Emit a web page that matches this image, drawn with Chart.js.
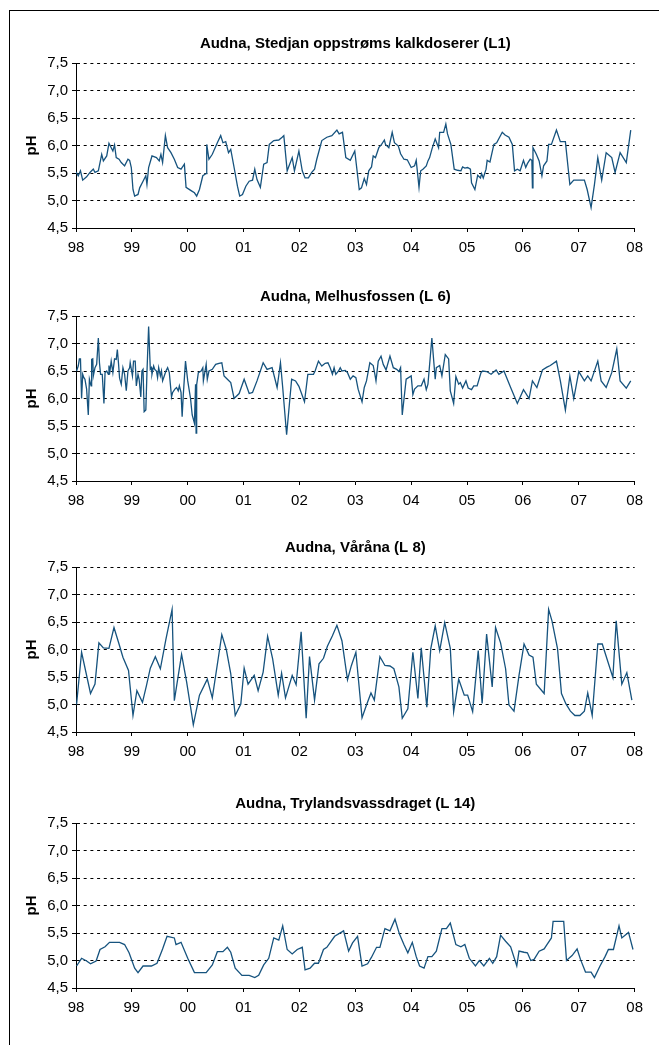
<!DOCTYPE html>
<html>
<head>
<meta charset="utf-8">
<script src="https://cdn.jsdelivr.net/npm/chart.js@4.4.0/dist/chart.umd.min.js"></script>
<style>
    html, body { margin: 0; padding: 0; background: #fff; width: 659px; height: 1045px; overflow: hidden; }
    #ramme { position: absolute; left: 9px; top: 10px; width: 700px; height: 1100px; border: 1px solid #000; }
    canvas { position: absolute; left: 10px; }
</style>
</head>
<body>
<div id="ramme"></div>
<canvas id="l1" width="640" height="240" style="top:20px"></canvas>
<canvas id="l6" width="640" height="240" style="top:273px"></canvas>
<canvas id="l8" width="640" height="240" style="top:524px"></canvas>
<canvas id="l14" width="640" height="240" style="top:780px"></canvas>
<script>
// Prøvetakingsdato (desimalår) og pH for hver stasjon
const l1Aar = [
    1998.00, 1998.04, 1998.08, 1998.12, 1998.19, 1998.25, 1998.31, 1998.34, 1998.40, 1998.46,
    1998.49, 1998.55, 1998.59, 1998.63, 1998.66, 1998.69, 1998.72, 1998.77, 1998.81, 1998.87,
    1998.93, 1998.96, 1998.99, 1999.02, 1999.05, 1999.11, 1999.14, 1999.20, 1999.25, 1999.27,
    1999.30, 1999.36, 1999.44, 1999.49, 1999.52, 1999.55, 1999.60, 1999.64, 1999.70, 1999.76,
    1999.82, 1999.88, 1999.94, 1999.97, 2000.06, 2000.12, 2000.16, 2000.21, 2000.27, 2000.33,
    2000.34, 2000.38, 2000.44, 2000.53, 2000.59, 2000.63, 2000.68, 2000.73, 2000.77, 2000.83,
    2000.89, 2000.93, 2000.98, 2001.04, 2001.10, 2001.16, 2001.20, 2001.24, 2001.30, 2001.36,
    2001.42, 2001.46, 2001.54, 2001.63, 2001.69, 2001.72, 2001.78, 2001.87, 2001.91, 2001.99,
    2002.05, 2002.10, 2002.16, 2002.22, 2002.27, 2002.31, 2002.35, 2002.40, 2002.49, 2002.58,
    2002.67, 2002.71, 2002.77, 2002.83, 2002.91, 2002.99,
    2003.07, 2003.11, 2003.16, 2003.20, 2003.24, 2003.29, 2003.32, 2003.36, 2003.42, 2003.47,
    2003.52, 2003.54, 2003.60, 2003.66, 2003.70, 2003.77, 2003.81, 2003.87, 2003.93, 2004.00,
    2004.06, 2004.09, 2004.14, 2004.17, 2004.21, 2004.27, 2004.30, 2004.33, 2004.37, 2004.43,
    2004.49, 2004.51, 2004.58, 2004.62, 2004.65, 2004.71, 2004.77, 2004.83, 2004.89, 2004.92,
    2004.96, 2005.01, 2005.06, 2005.08, 2005.14, 2005.19, 2005.24, 2005.26, 2005.29, 2005.34,
    2005.36, 2005.41, 2005.48, 2005.53, 2005.63, 2005.68, 2005.75, 2005.81, 2005.85, 2005.90,
    2005.95, 2006.01, 2006.05, 2006.08, 2006.13, 2006.16, 2006.17, 2006.18, 2006.24, 2006.29,
    2006.34, 2006.37, 2006.43, 2006.46, 2006.51, 2006.60, 2006.67, 2006.76, 2006.84, 2006.91,
    2007.03, 2007.10, 2007.15, 2007.22, 2007.28, 2007.34, 2007.41, 2007.49, 2007.59, 2007.65,
    2007.74, 2007.85, 2007.93
];
const l1PH = [
    5.52, 5.45, 5.54, 5.37, 5.43, 5.51, 5.57, 5.51, 5.54, 5.84,
    5.72, 5.81, 6.04, 5.96, 5.90, 6.01, 5.78, 5.75, 5.69, 5.63,
    5.75, 5.73, 5.60, 5.20, 5.08, 5.11, 5.23, 5.35, 5.45, 5.29,
    5.60, 5.81, 5.78, 5.72, 5.84, 5.69, 6.18, 5.96, 5.87, 5.75,
    5.60, 5.57, 5.66, 5.24, 5.18, 5.14, 5.08, 5.20, 5.45, 5.49,
    6.02, 5.75, 5.84, 6.05, 6.18, 6.05, 6.07, 5.87, 5.93, 5.60,
    5.26, 5.08, 5.11, 5.26, 5.35, 5.37, 5.57, 5.38, 5.24, 5.66,
    5.69, 6.02, 6.09, 6.10, 6.15, 6.18, 5.54, 5.78, 5.54, 5.90,
    5.54, 5.41, 5.41, 5.51, 5.57, 5.75, 5.90, 6.09, 6.15, 6.18,
    6.28, 6.21, 6.24, 5.78, 5.73, 5.90,
    5.20, 5.23, 5.40, 5.29, 5.54, 5.61, 5.81, 5.78, 5.96, 6.02,
    6.10, 6.02, 5.96, 6.24, 6.05, 5.99, 5.85, 5.75, 5.74, 5.60,
    5.63, 5.73, 5.24, 5.54, 5.57, 5.63, 5.72, 5.78, 5.93, 6.12,
    5.96, 6.24, 6.24, 6.39, 6.21, 6.02, 5.57, 5.55, 5.54, 5.61,
    5.59, 5.60, 5.57, 5.32, 5.20, 5.46, 5.41, 5.49, 5.41, 5.57,
    5.73, 5.70, 6.02, 6.05, 6.24, 6.19, 6.15, 6.02, 5.54, 5.57,
    5.54, 5.73, 5.60, 5.67, 5.75, 5.73, 5.23, 5.96, 5.84, 5.72,
    5.45, 5.63, 5.72, 6.02, 6.02, 6.28, 6.07, 6.07, 5.29, 5.37,
    5.37, 5.37, 5.20, 4.87, 5.29, 5.78, 5.37, 5.87, 5.78, 5.51,
    5.87, 5.69, 6.28
];

const l6Aar = [
    1998.01, 1998.04, 1998.06, 1998.08, 1998.10, 1998.12, 1998.14, 1998.16, 1998.19, 1998.22,
    1998.24, 1998.27, 1998.28, 1998.30, 1998.31, 1998.34, 1998.37, 1998.40, 1998.42, 1998.44,
    1998.47, 1998.50, 1998.52, 1998.55, 1998.58, 1998.59, 1998.60, 1998.63, 1998.66, 1998.69,
    1998.72, 1998.74, 1998.76, 1998.78, 1998.81, 1998.84, 1998.87, 1998.90, 1998.93, 1998.96,
    1998.97, 1999.01, 1999.03, 1999.06, 1999.08, 1999.11, 1999.13, 1999.16, 1999.18, 1999.20,
    1999.22, 1999.25, 1999.27, 1999.30, 1999.33, 1999.35, 1999.36, 1999.39, 1999.41, 1999.44,
    1999.46, 1999.48, 1999.51, 1999.53, 1999.55, 1999.58, 1999.61, 1999.64, 1999.67, 1999.71,
    1999.73, 1999.77, 1999.80, 1999.83, 1999.85, 1999.88, 1999.90, 1999.92, 1999.96, 2000.00,
    2000.05, 2000.08, 2000.12, 2000.14, 2000.15, 2000.16, 2000.19, 2000.24, 2000.27, 2000.28,
    2000.33, 2000.35, 2000.38, 2000.44, 2000.50, 2000.56, 2000.61, 2000.65, 2000.71, 2000.77,
    2000.83, 2000.92, 2001.01, 2001.10, 2001.16, 2001.24, 2001.35, 2001.42, 2001.51, 2001.60,
    2001.66, 2001.70, 2001.77, 2001.86, 2001.93, 2001.99, 2002.09, 2002.15, 2002.25, 2002.28,
    2002.34, 2002.40, 2002.46, 2002.51, 2002.55, 2002.59, 2002.62, 2002.65, 2002.70, 2002.73,
    2002.76, 2002.82, 2002.86, 2002.91, 2002.96, 2003.01,
    2003.05, 2003.12, 2003.16, 2003.20, 2003.26, 2003.32, 2003.35, 2003.37, 2003.41, 2003.46,
    2003.50, 2003.55, 2003.62, 2003.68, 2003.74, 2003.78, 2003.81, 2003.84, 2003.91, 2004.00,
    2004.03, 2004.06, 2004.12, 2004.18, 2004.23, 2004.27, 2004.30, 2004.37, 2004.43, 2004.45,
    2004.51, 2004.55, 2004.61, 2004.67, 2004.70, 2004.76, 2004.80, 2004.85, 2004.88, 2004.92,
    2004.98, 2005.02, 2005.08, 2005.12, 2005.18, 2005.25, 2005.28, 2005.35, 2005.43, 2005.52,
    2005.57, 2005.66, 2005.78, 2005.90, 2006.01, 2006.11, 2006.17, 2006.25, 2006.35, 2006.43,
    2006.49, 2006.60, 2006.67, 2006.76, 2006.84, 2006.91, 2007.00, 2007.10, 2007.16, 2007.22,
    2007.34, 2007.40, 2007.49, 2007.59, 2007.68, 2007.74, 2007.85, 2007.93
];
const l6PH = [
    6.50, 6.59, 6.72, 6.72, 6.00, 6.44, 6.38, 6.35, 6.17, 5.70,
    6.35, 6.23, 6.71, 6.72, 6.41, 6.56, 6.62, 7.10, 6.65, 6.44,
    6.44, 5.91, 6.47, 6.50, 6.44, 6.60, 6.44, 6.68, 6.47, 6.72,
    6.71, 6.89, 6.65, 6.37, 6.26, 6.56, 6.44, 6.14, 6.50, 6.56,
    6.65, 6.41, 6.68, 6.68, 6.23, 6.44, 6.35, 6.03, 6.50, 6.53,
    5.76, 5.79, 6.47, 7.31, 6.53, 6.56, 6.44, 6.59, 6.53, 6.50,
    6.38, 6.56, 6.41, 6.50, 6.32, 6.41, 6.50, 6.56, 6.47, 6.03,
    6.11, 6.17, 6.20, 6.14, 6.23, 6.11, 5.67, 6.06, 6.68, 6.32,
    6.00, 5.70, 5.55, 6.26, 5.37, 6.25, 6.47, 6.50, 6.56, 6.32,
    6.62, 6.35, 6.50, 6.53, 6.62, 6.64, 6.65, 6.41, 6.35, 6.29,
    6.00, 6.09, 6.35, 6.09, 6.11, 6.32, 6.65, 6.53, 6.56, 6.20,
    6.65, 6.20, 5.34, 6.35, 6.32, 6.22, 5.94, 6.44, 6.44, 6.50,
    6.68, 6.59, 6.64, 6.65, 6.56, 6.44, 6.56, 6.44, 6.50, 6.56,
    6.50, 6.51, 6.47, 6.35, 6.41, 6.38,
    6.17, 5.94, 6.20, 6.32, 6.65, 6.60, 6.44, 6.32, 6.68, 6.77,
    6.62, 6.52, 6.77, 6.56, 6.53, 6.49, 6.56, 5.70, 6.35, 6.41,
    6.07, 6.17, 6.23, 6.23, 6.35, 6.16, 6.26, 7.10, 6.35, 6.56,
    6.60, 6.41, 6.80, 6.72, 6.14, 5.91, 6.40, 6.26, 6.29, 6.19,
    6.32, 6.19, 6.16, 6.23, 6.23, 6.47, 6.50, 6.49, 6.44, 6.52,
    6.44, 6.50, 6.20, 5.91, 6.16, 6.00, 6.32, 6.20, 6.52, 6.57,
    6.60, 6.68, 6.32, 5.79, 6.41, 6.00, 6.49, 6.32, 6.41, 6.32,
    6.68, 6.32, 6.20, 6.47, 6.90, 6.32, 6.19, 6.32
];

const l8Aar = [
    1998.01, 1998.10, 1998.26, 1998.34, 1998.41, 1998.49, 1998.59, 1998.68, 1998.77, 1998.84,
    1998.94, 1999.02, 1999.09, 1999.19, 1999.26, 1999.33, 1999.42, 1999.51, 1999.61, 1999.72,
    1999.76, 1999.89, 1999.98, 2000.07, 2000.10, 2000.21, 2000.35, 2000.44, 2000.61, 2000.69,
    2000.77, 2000.85, 2000.95, 2001.01, 2001.08, 2001.19, 2001.26, 2001.35, 2001.43, 2001.52,
    2001.62, 2001.68, 2001.75, 2001.87, 2001.94, 2002.03, 2002.12, 2002.18, 2002.27, 2002.35,
    2002.43, 2002.50, 2002.59, 2002.67, 2002.76, 2002.86, 2002.93, 2003.01,
    2003.12, 2003.20, 2003.28, 2003.34, 2003.44, 2003.53, 2003.62, 2003.69, 2003.78, 2003.84,
    2003.94, 2004.03, 2004.12, 2004.18, 2004.28, 2004.35, 2004.43, 2004.51, 2004.60, 2004.70,
    2004.76, 2004.85, 2004.95, 2005.01, 2005.10, 2005.20, 2005.27, 2005.35, 2005.45, 2005.51,
    2005.60, 2005.69, 2005.75, 2005.84, 2005.93, 2006.02, 2006.11, 2006.18, 2006.24, 2006.38,
    2006.46, 2006.52, 2006.62, 2006.69, 2006.77, 2006.85, 2006.93, 2007.02, 2007.10, 2007.16,
    2007.24, 2007.34, 2007.42, 2007.61, 2007.67, 2007.77, 2007.86, 2007.95
];
const l8PH = [
    5.00, 5.95, 5.20, 5.37, 6.12, 6.03, 6.02, 6.40, 6.10, 5.86,
    5.62, 4.80, 5.25, 5.04, 5.34, 5.66, 5.87, 5.65, 6.19, 6.73,
    5.07, 5.91, 5.41, 4.83, 4.63, 5.17, 5.46, 5.12, 6.27, 6.00,
    5.56, 4.80, 5.01, 5.66, 5.37, 5.53, 5.25, 5.59, 6.24, 5.83,
    5.17, 5.57, 5.12, 5.53, 5.36, 6.32, 4.75, 5.87, 5.08, 5.74,
    5.84, 6.06, 6.25, 6.44, 6.16, 5.45, 5.71, 5.95,
    4.76, 4.99, 5.21, 5.08, 5.87, 5.71, 5.70, 5.65, 5.32, 4.75,
    4.92, 5.95, 5.11, 6.03, 4.95, 6.01, 6.43, 5.98, 6.49, 6.02,
    4.87, 5.46, 5.17, 5.17, 4.87, 5.98, 5.02, 6.28, 5.32, 6.40,
    6.12, 5.65, 4.99, 4.88, 5.53, 6.10, 5.90, 5.86, 5.37, 5.20,
    6.73, 6.52, 6.01, 5.20, 5.01, 4.88, 4.80, 4.80, 4.88, 5.21,
    4.80, 6.10, 6.10, 5.49, 6.52, 5.37, 5.58, 5.08
];

const l14Aar = [
    1998.01, 1998.10, 1998.19, 1998.26, 1998.36, 1998.43, 1998.52, 1998.60, 1998.78, 1998.87,
    1998.95, 1999.05, 1999.11, 1999.20, 1999.35, 1999.45, 1999.55, 1999.63, 1999.76, 1999.79,
    1999.88, 2000.00, 2000.12, 2000.33, 2000.44, 2000.53, 2000.63, 2000.71, 2000.77, 2000.85,
    2000.97, 2001.10, 2001.20, 2001.27, 2001.36, 2001.45, 2001.54, 2001.63, 2001.70, 2001.78,
    2001.87, 2001.96, 2002.05, 2002.10, 2002.19, 2002.27, 2002.34, 2002.43, 2002.49, 2002.63,
    2002.76, 2002.79, 2002.88, 2002.95, 2003.04, 2003.12, 2003.22, 2003.29, 2003.38, 2003.44,
    2003.53, 2003.62, 2003.71, 2003.79, 2003.87, 2003.94, 2004.02, 2004.09, 2004.15, 2004.23,
    2004.30, 2004.37, 2004.45, 2004.55, 2004.63, 2004.70, 2004.80, 2004.89, 2004.96, 2005.04,
    2005.15, 2005.22, 2005.30, 2005.40, 2005.46, 2005.53, 2005.60, 2005.69, 2005.78, 2005.89,
    2005.93, 2006.02, 2006.08, 2006.14, 2006.20, 2006.29, 2006.38, 2006.43, 2006.51, 2006.54,
    2006.73, 2006.78, 2006.88, 2006.97, 2007.03, 2007.12, 2007.22, 2007.28, 2007.38, 2007.47,
    2007.53, 2007.62, 2007.72, 2007.77, 2007.89, 2007.97
];
const l14PH = [
    4.90, 5.04, 4.99, 4.94, 4.99, 5.20, 5.25, 5.33, 5.33, 5.29,
    5.14, 4.86, 4.78, 4.90, 4.90, 4.95, 5.21, 5.44, 5.41, 5.29,
    5.33, 5.04, 4.78, 4.78, 4.92, 5.16, 5.16, 5.24, 5.15, 4.86,
    4.73, 4.73, 4.69, 4.73, 4.92, 5.04, 5.41, 5.37, 5.63, 5.20,
    5.12, 5.20, 5.24, 4.83, 4.86, 4.95, 4.95, 5.20, 5.24, 5.44,
    5.52, 5.54, 5.17, 5.32, 5.44, 4.90, 4.94, 5.06, 5.24, 5.24,
    5.58, 5.54, 5.75, 5.48, 5.29, 5.14, 5.33, 5.07, 4.90, 4.86,
    5.07, 5.07, 5.17, 5.58, 5.58, 5.68, 5.29, 5.25, 5.29, 5.04,
    4.90, 5.00, 4.90, 5.04, 4.95, 5.07, 5.46, 5.35, 5.25, 4.90,
    5.17, 5.15, 5.14, 5.00, 5.02, 5.17, 5.21, 5.29, 5.41, 5.71,
    5.71, 5.00, 5.09, 5.21, 5.02, 4.79, 4.79, 4.69, 4.90, 5.07,
    5.20, 5.20, 5.63, 5.41, 5.51, 5.20
];

const SKRIFT = "'Liberation Sans', Arial, sans-serif";
const LINJEFARGE = "#16537e";

function lagDiagram(id, tittel, aar, ph) {
    new Chart(document.getElementById(id), {
        type: "line",
        data: {
            datasets: [
                {
                    data: aar.map((x, i) => ({ x: x, y: ph[i] })),
                    borderColor: LINJEFARGE,
                    borderWidth: 1.3,
                    pointRadius: 0,
                    tension: 0,
                    fill: false,
                },
            ],
        },
        options: {
            responsive: false,
            animation: false,
            layout: { padding: { top: 0, right: 12, bottom: 4, left: 0 } },
            plugins: {
                legend: { display: false },
                tooltip: { enabled: false },
                title: {
                    display: true,
                    text: tittel,
                    fullSize: false,
                    color: "#000",
                    font: { family: SKRIFT, size: 15, weight: "bold" },
                    padding: { top: 15, bottom: 10 },
                },
            },
            scales: {
                x: {
                    type: "linear",
                    min: 1998,
                    max: 2008,
                    afterFit: (s) => { s.height = 28; },
                    ticks: {
                        stepSize: 1,
                        autoSkip: false,
                        maxRotation: 0,
                        padding: 7,
                        color: "#000",
                        font: { family: SKRIFT, size: 15 },
                        callback: (v) => String(v).slice(2),
                    },
                    grid: { drawOnChartArea: false, tickLength: 4, color: "#000" },
                    border: { display: true, color: "#000", width: 1 },
                },
                y: {
                    min: 4.5,
                    max: 7.5,
                    afterFit: (s) => { s.width = 66; },
                    ticks: {
                        stepSize: 0.5,
                        padding: 4,
                        color: "#000",
                        font: { family: SKRIFT, size: 15 },
                        callback: (v) => v.toFixed(1).replace(".", ","),
                    },
                    grid: { color: "#000", tickLength: 4, lineWidth: 1 },
                    border: { display: true, color: "#000", width: 1, dash: [3, 3.7] },
                    title: {
                        display: true,
                        text: "pH",
                        color: "#000",
                        font: { family: SKRIFT, size: 15, weight: "bold" },
                        padding: { top: 13, bottom: 0 },
                    },
                },
            },
        },
    });
}

lagDiagram("l1", "Audna, Stedjan oppstrøms kalkdoserer (L1)", l1Aar, l1PH);
lagDiagram("l6", "Audna, Melhusfossen (L 6)", l6Aar, l6PH);
lagDiagram("l8", "Audna, Våråna (L 8)", l8Aar, l8PH);
lagDiagram("l14", "Audna, Trylandsvassdraget (L 14)", l14Aar, l14PH);
</script>
</body>
</html>
